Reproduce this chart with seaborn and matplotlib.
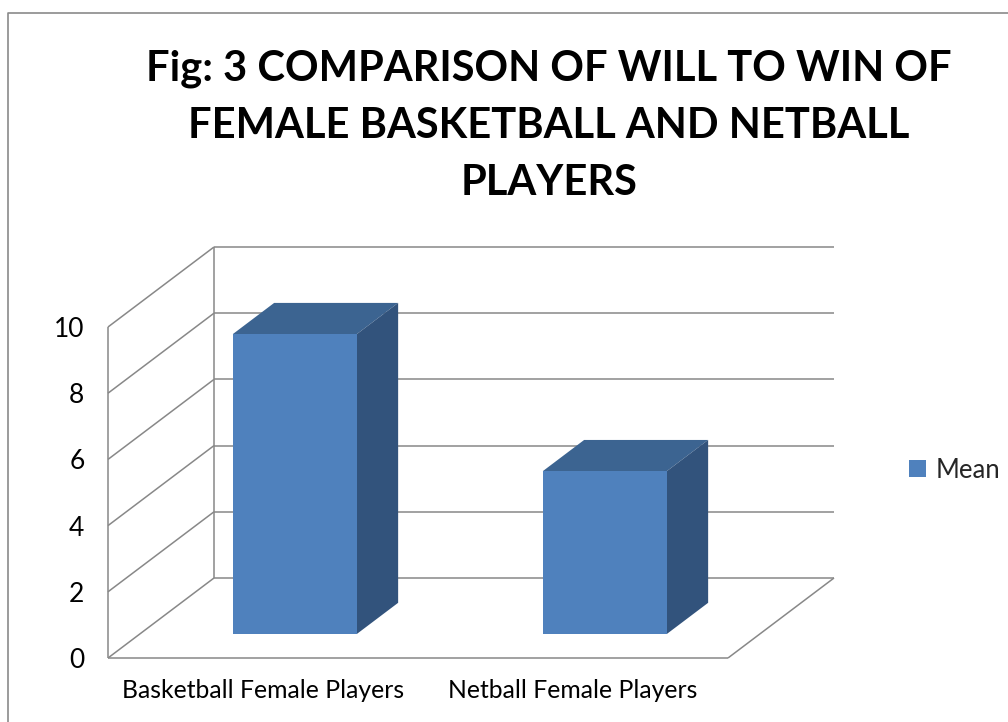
import matplotlib
matplotlib.use("Agg")
import matplotlib.pyplot as plt
import seaborn as sns
import pandas as pd
from matplotlib.patches import Polygon
from matplotlib.lines import Line2D

# ---- data ----
categories = ["Basketball Female Players", "Netball Female Players"]
means = [9.06, 4.92]
series_name = "Mean"
y_ticks = [0, 2, 4, 6, 8, 10]
title_lines = ["Fig: 3 COMPARISON OF WILL TO WIN OF",
               "FEMALE BASKETBALL AND NETBALL",
               "PLAYERS"]

# ---- style ----
FRONT = "#4F81BD"
TOP = "#3C6491"
SIDE = "#32537C"
GRID = "#888888"

sns.set_theme(style="white")
plt.rcParams['font.family'] = ['Lato', 'DejaVu Sans']

W, H = 1008, 722
fig = plt.figure(figsize=(W / 100, H / 100), dpi=100)
fig.patch.set_facecolor("white")
ax = fig.add_axes([108 / W, (H - 658) / H, 620 / W, 331 / H])
ax.set_facecolor("none")

df = pd.DataFrame({"cat": categories, "val": means, "series": series_name})
sns.barplot(data=df, x="cat", y="val", hue="series", palette=[FRONT],
            width=0.4, ax=ax, saturation=1, legend=True, zorder=4,
            linewidth=0)
ax.set_xlim(-0.5, 1.5)
ax.set_ylim(0, 10)

# oblique depth offset (data units)
DX = 106 / 310
DY = 80 / 33.1
D0, D1 = 0.30, 0.69

x_lo, x_hi = ax.get_xlim()
y_top = max(y_ticks)
lkw = dict(color=GRID, lw=1.1, zorder=1, clip_on=False, solid_capstyle="butt")

# back wall gridlines and side-wall diagonals
for v in y_ticks:
    ax.add_line(Line2D([x_lo + DX, x_hi + DX], [v + DY, v + DY], **lkw))
    ax.add_line(Line2D([x_lo, x_lo + DX], [v, v + DY], **lkw))
# back wall left edge
ax.add_line(Line2D([x_lo + DX, x_lo + DX], [DY, y_top + DY], **lkw))
# front left edge
ax.add_line(Line2D([x_lo, x_lo], [0, y_top], **lkw))
# floor
ax.add_line(Line2D([x_lo, x_hi], [0, 0], **lkw))
ax.add_line(Line2D([x_hi, x_hi + DX], [0, DY], **lkw))

# 3-D bars from seaborn's bar patches
for p in ax.containers[0]:
    x0, w, h = p.get_x(), p.get_width(), p.get_height()
    p.set_x(x0 + D0 * DX)
    p.set_y(D0 * DY)
    top = [(x0 + D0 * DX, h + D0 * DY), (x0 + w + D0 * DX, h + D0 * DY),
           (x0 + w + D1 * DX, h + D1 * DY), (x0 + D1 * DX, h + D1 * DY)]
    side = [(x0 + w + D0 * DX, D0 * DY), (x0 + w + D1 * DX, D1 * DY),
            (x0 + w + D1 * DX, h + D1 * DY), (x0 + w + D0 * DX, h + D0 * DY)]
    ax.add_patch(Polygon(top, closed=True, facecolor=TOP, edgecolor="none",
                         zorder=3, clip_on=False))
    ax.add_patch(Polygon(side, closed=True, facecolor=SIDE, edgecolor="none",
                         zorder=3, clip_on=False))

for s in ax.spines.values():
    s.set_visible(False)
ax.set_yticks(y_ticks)
ax.set_xlabel("")
ax.set_ylabel("")
ax.tick_params(axis="y", length=0, pad=17, labelsize=19, labelcolor="black")
ax.tick_params(axis="x", length=0, pad=15, labelsize=17.8, labelcolor="black")
ax.grid(False)

sns.move_legend(ax, "center left", bbox_to_anchor=(909 / W, 1 - 470 / H),
                bbox_transform=fig.transFigure, title=None, frameon=False,
                handlelength=0.65, handleheight=0.65, handletextpad=0.4,
                fontsize=18.5, borderpad=0, borderaxespad=0)

# title
fig.text(549 / W, 1 - 50 / H, "\n".join(title_lines), ha="center", va="top",
         fontsize=30, fontweight="bold", color="black", linespacing=1.6)

# outer border
fig.add_artist(Line2D([7.5 / W, 7.5 / W, 1.01], [-0.01, 1 - 12.5 / H, 1 - 12.5 / H],
                      transform=fig.transFigure, color="#8a8a8a", lw=1.2))

fig.savefig("out.png", dpi=100)
